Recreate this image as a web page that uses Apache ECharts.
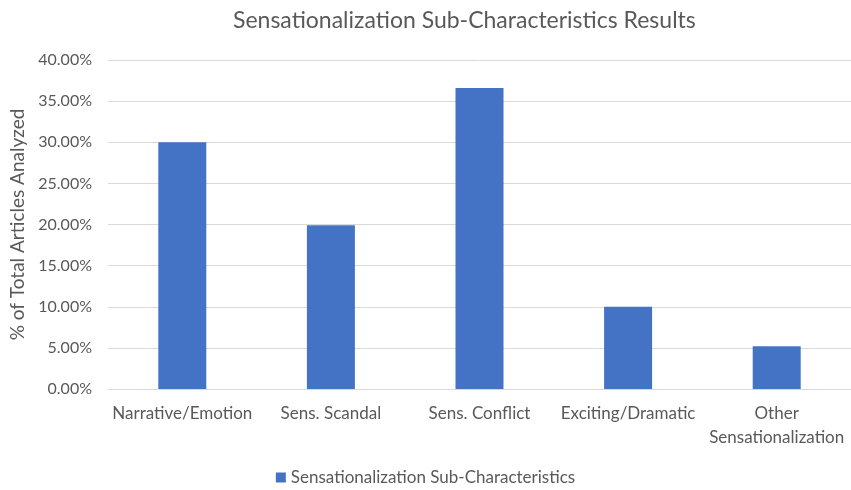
<!DOCTYPE html>
<html><head><meta charset="utf-8">
<script src="https://cdn.jsdelivr.net/npm/echarts@6/dist/echarts.min.js"></script>
<style>html,body{margin:0;padding:0;background:#fff}#c{width:851px;height:490px}</style>
</head><body><div id="c"></div>
<script>
const categories = ['Narrative/Emotion', 'Sens. Scandal', 'Sens. Conflict', 'Exciting/Dramatic', 'Other\nSensationalization'];
const values = [0.300, 0.199, 0.366, 0.100, 0.052];
const seriesName = 'Sensationalization Sub-Characteristics';
const titleText = 'Sensationalization Sub-Characteristics Results';
const yAxisName = '% of Total Articles Analyzed';

const font = 'Lato, "Open Sans", sans-serif';
const chart = echarts.init(document.getElementById('c'));
chart.setOption({
  animation: false,
  title: { text: titleText, left: 228, top: 4, textStyle: { fontFamily: font, fontSize: 23, fontWeight: 'normal', color: '#595959' } },
  legend: { top: 464, left: 'center', itemWidth: 10, itemHeight: 10, itemGap: 6, icon: 'rect', textStyle: { fontFamily: font, fontSize: 17, color: '#595959' } },
  grid: { left: 108, right: -2, top: 60, bottom: 101 },
  xAxis: {
    type: 'category', data: categories,
    axisLine: { lineStyle: { color: '#d9d9d9' } }, axisTick: { show: false },
    axisLabel: { fontFamily: font, fontSize: 17, color: '#595959', margin: 13, lineHeight: 24, interval: 0 }
  },
  yAxis: {
    type: 'value', min: 0, max: 0.4, interval: 0.05,
    name: yAxisName, nameLocation: 'middle', nameGap: 81, nameRotate: 90,
    nameTextStyle: { fontFamily: font, fontSize: 19, color: '#595959' },
    axisLine: { show: false }, axisTick: { show: false },
    axisLabel: { fontFamily: font, fontSize: 16, color: '#595959', margin: 16, formatter: v => (v * 100).toFixed(2) + '%' },
    splitLine: { lineStyle: { color: '#d9d9d9', width: 1 } }
  },
  series: [{ name: seriesName, type: 'bar', data: values, barWidth: 48, itemStyle: { color: '#4472c4' } }]
});
</script></body></html>
